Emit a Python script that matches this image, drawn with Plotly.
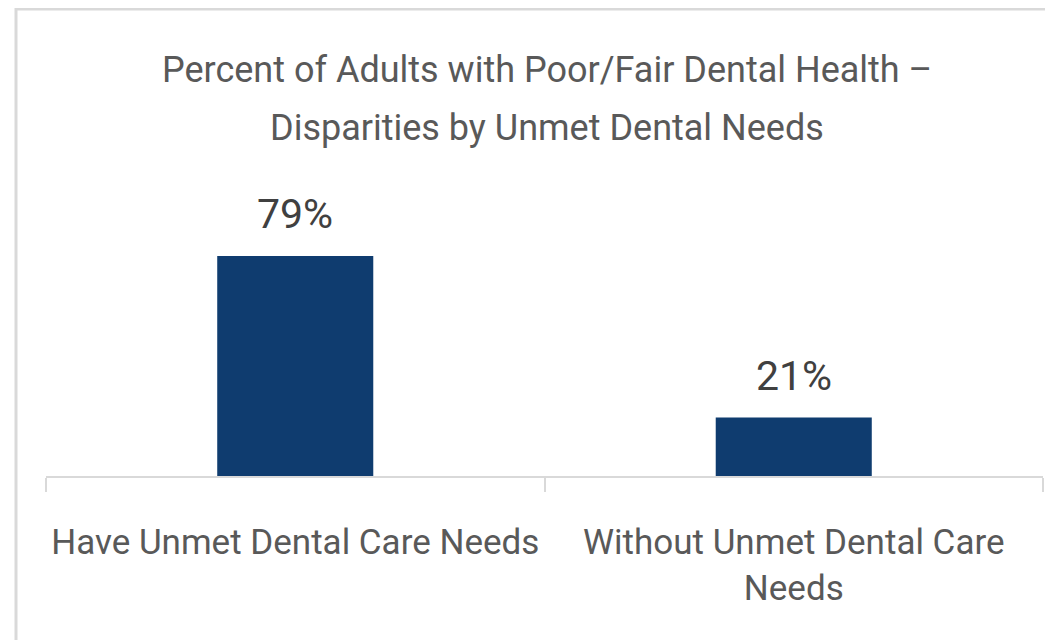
import plotly.graph_objects as go

categories = ["Have Unmet Dental Care Needs", "Without Unmet Dental Care<br>Needs"]
values = [79, 21]
title_lines = ["Percent of Adults with Poor/Fair Dental Health –",
               "Disparities by Unmet Dental Needs"]

FONT = "Roboto, sans-serif"
GRAY = "#595959"
LINE = "#D9D9D9"

W, H = 1053, 640
L, R, T, B = 38, 18, 182, 172
pw, ph = W - L - R, H - T - B
base = H - B  # baseline in figure px


def px(xf):
    return (xf - L) / pw


def py(yf):
    return (base - yf) / ph


fig = go.Figure(go.Bar(
    x=categories, y=values,
    marker=dict(color="#0F3C6F", line=dict(width=0)),
    width=0.313,
    hoverinfo="skip",
))

for c, v in zip(categories, values):
    fig.add_annotation(x=c, y=v, text=f"{v}%", showarrow=False,
                       yanchor="bottom", yshift=16,
                       font=dict(family=FONT, size=41, color="#404040"))

for line, yc in zip(title_lines, [62, 120]):
    fig.add_annotation(xref="paper", yref="paper", x=px(539), y=py(yc),
                       xanchor="center", yanchor="middle", showarrow=False,
                       text=line, font=dict(family=FONT, size=36, color=GRAY))

# outer frame (top and left edges visible)
fig.add_shape(type="line", xref="paper", yref="paper",
              x0=px(8), x1=px(W + 20), y0=py(1), y1=py(1),
              line=dict(color=LINE, width=3), layer="below")
fig.add_shape(type="line", xref="paper", yref="paper",
              x0=px(8), x1=px(8), y0=py(0), y1=py(H + 20),
              line=dict(color=LINE, width=3), layer="below")

fig.update_layout(
    width=W, height=H,
    margin=dict(l=L, r=R, t=T, b=B, autoexpand=False),
    paper_bgcolor="white", plot_bgcolor="white",
    showlegend=False,
    xaxis=dict(range=[-0.5, 1.5], showline=True, linecolor=LINE, linewidth=2,
               ticks="outside", tickson="boundaries", ticklen=14, tickcolor=LINE, tickwidth=2,
               tickangle=0, automargin=False, ticklabelstandoff=34,
               tickfont=dict(family=FONT, size=35, color=GRAY), showgrid=False, fixedrange=True),
    yaxis=dict(range=[0, 102.7], visible=False, showgrid=False, zeroline=False),
)

fig.write_html("out.html")
